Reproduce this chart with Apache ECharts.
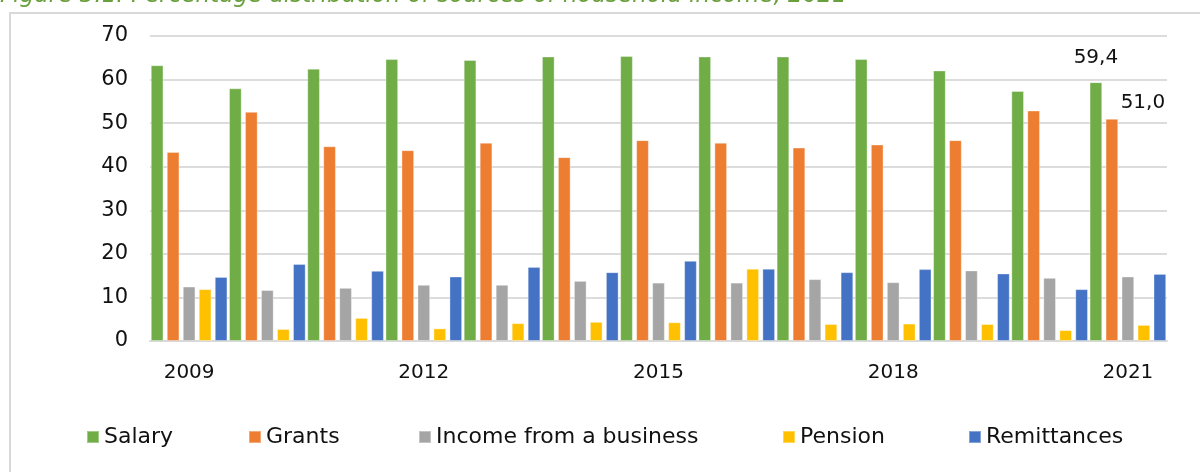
<!DOCTYPE html>
<html>
<head>
<meta charset="utf-8">
<script src="https://cdn.jsdelivr.net/npm/echarts@6/dist/echarts.min.js"></script>
<style>
  html, body { margin: 0; padding: 0; background: #ffffff; }
  #chart { width: 1200px; height: 472px; }
</style>
</head>
<body>
<div id="chart"></div>
<script>
// Sources of household income, % of total, 2009-2021
const years = ['2009','2010','2011','2012','2013','2014','2015','2016','2017','2018','2019','2020','2021'];
const salary      = [63.3, 58.0, 62.5, 64.7, 64.5, 65.3, 65.4, 65.3, 65.3, 64.7, 62.1, 57.4, 59.4];
const grants      = [43.4, 52.6, 44.7, 43.8, 45.5, 42.2, 46.1, 45.5, 44.4, 45.1, 46.1, 52.9, 51.0];
const business    = [12.5, 11.7, 12.2, 12.9, 12.9, 13.8, 13.4, 13.4, 14.2, 13.5, 16.2, 14.5, 14.8];
const pension     = [11.9, 2.75, 5.3, 2.9, 4.1, 4.4, 4.3, 16.6, 3.9, 4.0, 3.9, 2.5, 3.7];
const remittances = [14.7, 17.7, 16.1, 14.8, 17.0, 15.8, 18.4, 16.6, 15.8, 16.5, 15.5, 11.9, 15.4];

const seriesNames = ['Salary', 'Grants', 'Income from a business', 'Pension', 'Remittances'];
const seriesColors = ['#70ad47', '#ed7d31', '#a5a5a5', '#ffc000', '#4472c4'];
const legendLeft = [81, 243, 413, 777, 963];

const FONT = 'DejaVu Sans';
const commaFmt = p => p.value.toFixed(1).replace('.', ',');

// Only the final year carries value labels for the two largest sources
function withLastLabel(values, labelOpts) {
  return values.map((v, i) => i === values.length - 1
    ? { value: v, label: Object.assign({ show: true, formatter: commaFmt,
        color: '#111', fontFamily: FONT, fontSize: 20 }, labelOpts) }
    : v);
}

const seriesData = [
  withLastLabel(salary, { position: 'top', distance: 14 }),
  withLastLabel(grants, { position: 'top', distance: 6, offset: [31, 0] }),
  business,
  pension,
  remittances
];

const chart = echarts.init(document.getElementById('chart'), null, { renderer: 'canvas' });

chart.setOption({
  animation: false,
  color: seriesColors,
  graphic: [
    {
      type: 'rect', silent: true, z: -1,
      shape: { x: 10, y: 13, width: 1300, height: 600 },
      style: { fill: 'none', stroke: '#d9d9d9', lineWidth: 2 }
    },
    {
      type: 'text', left: 0, top: -15, silent: true,
      style: {
        text: 'Figure 3.1: Percentage distribution of sources of household income, 2021',
        fill: '#6a9f3d', font: 'italic 23px "DejaVu Sans"'
      }
    }
  ],
  legend: seriesNames.map((name, i) => ({
    data: [name],
    left: legendLeft[i],
    top: 421,
    icon: 'rect',
    itemWidth: 12,
    itemHeight: 12,
    textStyle: { fontFamily: FONT, fontSize: 22, color: '#111' }
  })),
  grid: { left: 150, right: 33, top: 36, bottom: 131, containLabel: false },
  xAxis: {
    type: 'category',
    data: years,
    axisTick: { show: false },
    axisLine: { lineStyle: { color: '#d9d9d9', width: 2 } },
    axisLabel: { interval: 2, margin: 22, fontFamily: FONT, fontSize: 20, color: '#111' }
  },
  yAxis: {
    type: 'value',
    min: 0, max: 70, interval: 10,
    axisLine: { show: false },
    axisTick: { show: false },
    splitLine: { lineStyle: { color: '#dcdcdc', width: 2 } },
    axisLabel: { margin: 22, fontFamily: FONT, fontSize: 21, color: '#111' }
  },
  series: seriesNames.map((name, i) => ({
    name: name,
    type: 'bar',
    data: seriesData[i],
    barGap: '26%',
    barCategoryGap: '2%',
    itemStyle: { color: seriesColors[i], borderColor: 'rgba(255,255,255,0.35)', borderWidth: 1 }
  }))
});
</script>
</body>
</html>
